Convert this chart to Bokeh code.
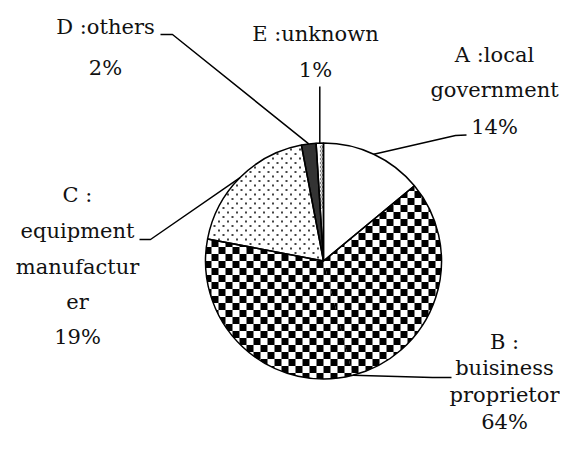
import numpy as np
from bokeh.plotting import figure
from bokeh.models import ColumnDataSource, Range1d
from bokeh.core.properties import value
from bokeh.embed import file_html
from bokeh.resources import INLINE

# ---------------- data ----------------
categories = ["A", "B", "C", "D", "E"]
shares = [14, 64, 19, 2, 1]          # percent
# label texts (line breaks as in the picture); the percentage line is added from shares
label_lines = [
    ["A :local", "government"],
    ["B :", "buisiness", "proprietor"],
    ["C :", "equipment", "manufactur", "er"],
    ["D :others"],
    ["E :unknown"],
]

# ---------------- styles ----------------
fill_colors = ["white", "white", "white", "#333333", "white"]
pattern_kind = [None, "checker", "dots", None, "rings"]

# ---------------- layout (picture pixels) ----------------
W, H = 560, 436
CX, CY, R = 323, 260.5, 118
FONT = "DejaVu Serif"
FONT_SIZE = "21px"
TEXT_SHIFT = 9     # rendered text sits lower than the given anchor
label_x = [494, 504, 77, 105, 315]
label_baselines = [
    [63, 98, 135],
    [350, 376, 403, 430],
    [203, 239, 275, 310, 345],
    [35, 76.5],
    [42, 78],
]
# leader path after leaving the slice edge: (x, y) picture points, None = same x as start
leader_tail = [
    [(455, 135), (466, 134.5)],
    [(432, 377), (451, 377)],
    [(150, 239), (139, 239)],
    [(172, 34), (160, 34)],
    [(None, 86)],
]

# ---------------- geometry from data ----------------
total = float(sum(shares))
cum = np.cumsum([0] + shares) / total
start_angles = np.pi / 2 - 2 * np.pi * cum[1:]
end_angles = np.pi / 2 - 2 * np.pi * cum[:-1]
mid_angles = (start_angles + end_angles) / 2
cx, cy = CX, -CY     # data coordinates (y up)


def sector_polys(a0, a1, n=48):
    """convex CCW polygons (each spanning < 180 deg) covering sector a0..a1"""
    parts = int(np.ceil((a1 - a0) / (np.pi * 0.75)))
    bounds = np.linspace(a0, a1, parts + 1)
    polys = []
    for b0, b1 in zip(bounds[:-1], bounds[1:]):
        t = np.linspace(b0, b1, n)
        pts = [(cx, cy)] + [(cx + R * np.cos(a), cy + R * np.sin(a)) for a in t]
        polys.append(pts)
    return polys


def clip(poly, clip_poly):
    out = list(poly)
    m = len(clip_poly)
    for k in range(m):
        if not out:
            break
        a = clip_poly[k]
        b = clip_poly[(k + 1) % m]

        def inside(p):
            return (b[0] - a[0]) * (p[1] - a[1]) - (b[1] - a[1]) * (p[0] - a[0]) >= 0

        def inter(p, q):
            x1, y1 = p; x2, y2 = q; x3, y3 = a; x4, y4 = b
            den = (x1 - x2) * (y3 - y4) - (y1 - y2) * (x3 - x4)
            t = ((x1 - x3) * (y3 - y4) - (y1 - y3) * (x3 - x4)) / den
            return (x1 + t * (x2 - x1), y1 + t * (y2 - y1))

        inp = out
        out = []
        s = inp[-1]
        for e in inp:
            if inside(e):
                if not inside(s):
                    out.append(inter(s, e))
                out.append(e)
            elif inside(s):
                out.append(inter(s, e))
            s = e
    return out


def in_sector(px, py, a0, a1, margin=1.5):
    dx, dy = px - cx, py - cy
    r = np.hypot(dx, dy)
    ang = np.arctan2(dy, dx)
    ang = np.where(ang < a0, ang + 2 * np.pi, ang)
    ang = np.where(ang > a1, ang - 2 * np.pi, ang)
    ok = (r < R - margin) & (ang >= a0) & (ang <= a1)
    d0 = np.abs(-np.sin(a0) * dx + np.cos(a0) * dy)
    d1 = np.abs(-np.sin(a1) * dx + np.cos(a1) * dy)
    return ok & (d0 > margin) & (d1 > margin)


p = figure(width=W, height=H, output_backend="svg", toolbar_location=None,
           x_range=Range1d(0, W), y_range=Range1d(-H, 0),
           x_axis_location=None, y_axis_location=None, min_border=0)
p.grid.visible = False
p.outline_line_color = None
p.background_fill_color = "white"
p.border_fill_color = "white"

src = ColumnDataSource(dict(
    cat=categories,
    x=[cx] * len(shares), y=[cy] * len(shares),
    start=start_angles, end=end_angles, fill=fill_colors,
))
# slice fills
p.wedge(x="x", y="y", radius=R, start_angle="start", end_angle="end", source=src,
        fill_color="fill", line_color=None)

# patterns inside the slices
cxs, cys = [], []
dot_x, dot_y = [], []
ring_x, ring_y = [], []
for i, kind in enumerate(pattern_kind):
    a0, a1 = start_angles[i], end_angles[i]
    if kind == "checker":
        s = 7.0
        n = int(np.ceil(R / s)) + 1
        polys = sector_polys(a0, a1)
        for gi in range(-n, n):
            for gj in range(-n, n):
                if (gi + gj) % 2:
                    continue
                x0 = cx + gi * s
                y0 = cy + gj * s
                sq = [(x0, y0), (x0 + s, y0), (x0 + s, y0 + s), (x0, y0 + s)]
                for cp in polys:
                    c = clip(sq, cp)
                    if len(c) >= 3:
                        cxs.append([q[0] for q in c])
                        cys.append([q[1] for q in c])
    elif kind == "dots":
        dx, dy = 9.0, 4.5
        gx, gy = np.meshgrid(np.arange(-R, R + dx, dx), np.arange(-R, R + dy, dy))
        rows = np.round((gy + R) / dy).astype(int)
        gx = gx + (rows % 2) * dx / 2
        px_, py_ = (cx + gx).ravel(), (cy + gy).ravel()
        m = in_sector(px_, py_, a0, a1)
        dot_x += list(px_[m]); dot_y += list(py_[m])
    elif kind == "rings":
        d = 4.0
        gx, gy = np.meshgrid(np.arange(-R, R + d, d), np.arange(-R, R + d, d))
        px_, py_ = (cx + gx).ravel(), (cy + gy).ravel()
        m = in_sector(px_, py_, a0, a1, margin=1.2)
        ring_x += list(px_[m]); ring_y += list(py_[m])

p.patches(cxs, cys, fill_color="black", line_color=None)
p.rect(dot_x, dot_y, width=2, height=2, fill_color="#444444", line_color=None)
p.scatter(ring_x, ring_y, marker="circle", size=2.5, fill_color=None,
          line_color="#555555", line_width=0.8)

# slice outlines
p.wedge(x="x", y="y", radius=R, start_angle="start", end_angle="end", source=src,
        fill_color=None, line_color="black", line_width=1.5)

# leader lines
xs, ys = [], []
for i, a in enumerate(mid_angles):
    sx = cx + R * np.cos(a)
    sy = cy + R * np.sin(a)
    px, py = [sx], [sy]
    for (tx, ty) in leader_tail[i]:
        px.append(sx if tx is None else tx)
        py.append(-ty)
    xs.append(px)
    ys.append(py)
p.multi_line(xs, ys, line_color="black", line_width=1.5)

# labels
tx, ty, tt = [], [], []
for i, lines in enumerate(label_lines):
    texts = lines + [f"{shares[i]}%"]
    for t, b in zip(texts, label_baselines[i]):
        tx.append(label_x[i])
        ty.append(-(b - TEXT_SHIFT))
        tt.append(t)
p.text(x=tx, y=ty, text=tt, text_font=value(FONT), text_font_size=FONT_SIZE,
       text_align="center", text_baseline="alphabetic", text_color="#111111")

open("out.html", "w").write(file_html(p, INLINE))
